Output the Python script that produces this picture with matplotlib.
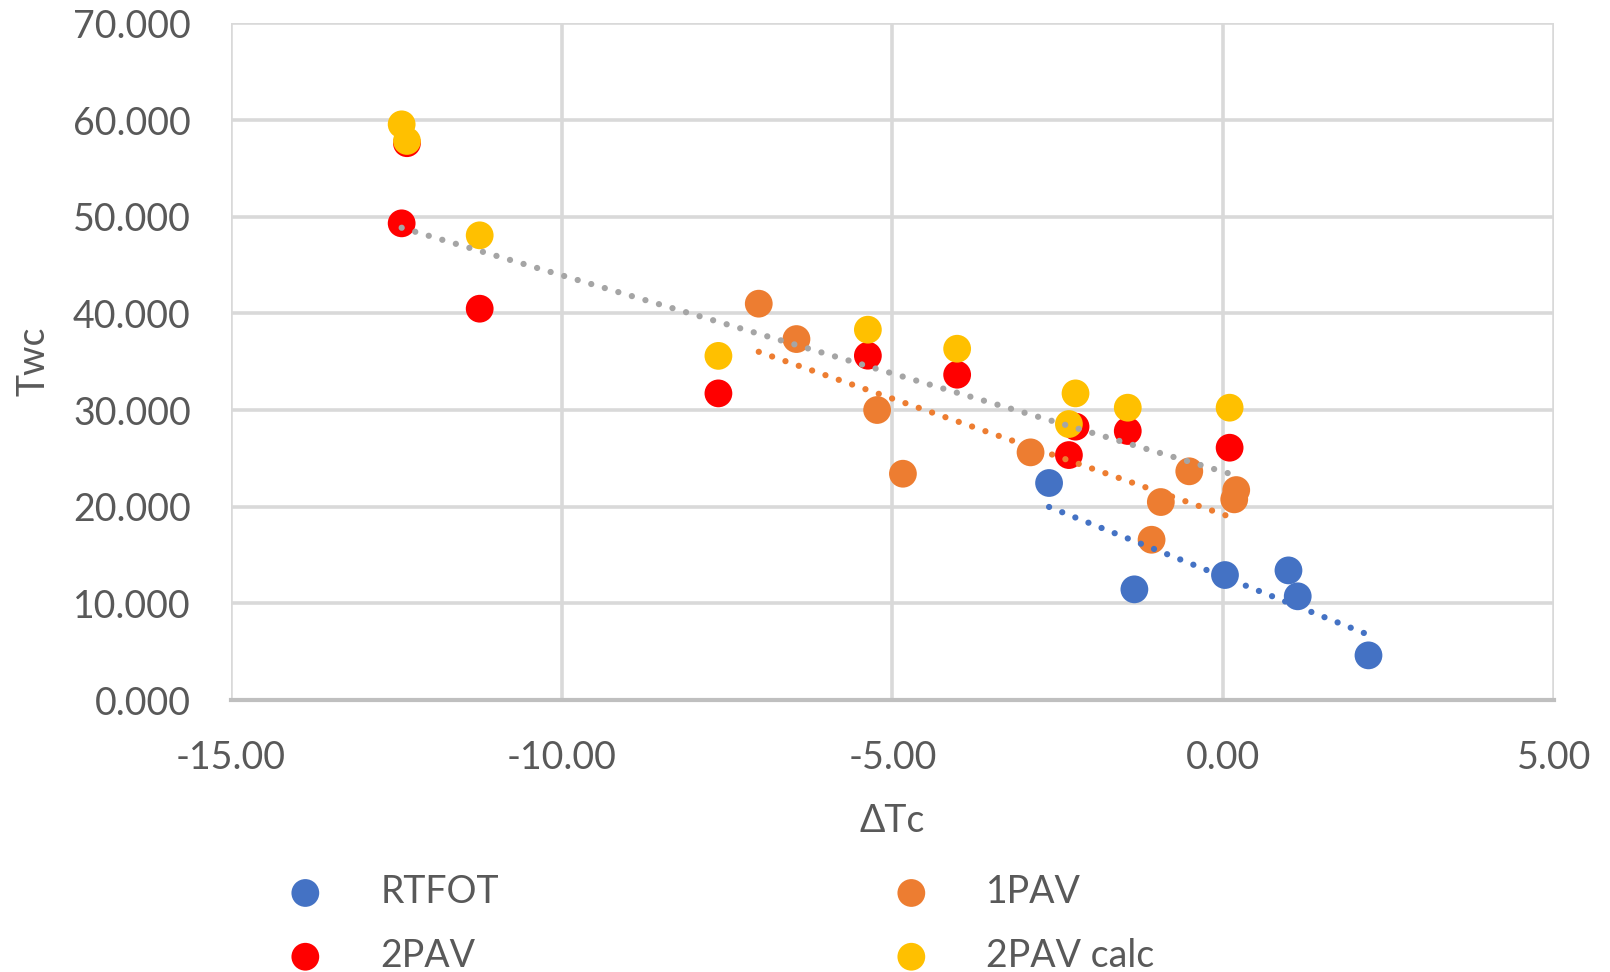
import numpy as np
import matplotlib
matplotlib.use("Agg")
from matplotlib import pyplot as plt
from matplotlib.ticker import FormatStrFormatter

plt.rcParams['font.family'] = ['Lato', 'DejaVu Sans']
plt.rcParams['axes.unicode_minus'] = False

# data
rtfot_x = [-2.63, -1.34, 0.03, 0.99, 1.13, 2.20]
rtfot_y = [22.45, 11.45, 12.93, 13.41, 10.73, 4.62]

pav1_x = [-7.02, -6.45, -5.23, -4.84, -2.91, -1.08, -0.94, -0.51, 0.17, 0.20]
pav1_y = [41.0, 37.34, 30.0, 23.41, 25.62, 16.58, 20.48, 23.66, 20.76, 21.72]

pav2_x = [-12.42, -12.34, -11.24, -7.63, -5.37, -4.02, -2.33, -2.23, -1.44, 0.10]
pav2_y = [49.31, 57.6, 40.48, 31.72, 35.62, 33.65, 25.34, 28.28, 27.83, 26.1]

calc_x = [-12.42, -12.34, -11.24, -7.63, -5.37, -4.02, -2.33, -2.23, -1.44, 0.10]
calc_y = [59.55, 57.83, 48.07, 35.6, 38.31, 36.34, 28.55, 31.72, 30.24, 30.24]

series = [
    ("RTFOT", rtfot_x, rtfot_y, "#4472C4", "#4472C4"),
    ("1PAV", pav1_x, pav1_y, "#ED7D31", "#ED7D31"),
    ("2PAV", pav2_x, pav2_y, "#FF0000", "#A5A5A5"),
    ("2PAV calc", calc_x, calc_y, "#FFC000", None),
]

txt = "#595959"
fs = 27

fig = plt.figure(figsize=(16.1, 9.72), dpi=100)
ax = fig.add_axes([0.1435, 0.2798, 0.8215, 0.6962])

handles = {}
for name, x, y, col, tcol in series:
    handles[name] = ax.scatter(x, y, s=400, color=col, edgecolors="none", zorder=3, label=name)

# linear trendlines drawn on top of the markers
for name, x, y, col, tcol in series:
    if tcol is None:
        continue
    k, b = np.polyfit(x, y, 1)
    xs = np.array([min(x), max(x)])
    ax.plot(xs, k * xs + b, color=tcol, lw=4.5, linestyle=(0, (0.01, 2.25)),
            dash_capstyle="round", zorder=4)

ax.set_xlim(-15, 5)
ax.set_ylim(0, 70)
ax.set_xticks(np.arange(-15, 6, 5))
ax.set_yticks(np.arange(0, 71, 10))
ax.xaxis.set_major_formatter(FormatStrFormatter("%.2f"))
ax.yaxis.set_major_formatter(FormatStrFormatter("%.3f"))
ax.grid(True, color="#D9D9D9", lw=2.6, zorder=0)
ax.set_axisbelow(True)
for s in ["top", "left", "right"]:
    ax.spines[s].set_visible(False)
ax.spines["bottom"].set_color("#BFBFBF")
ax.spines["bottom"].set_linewidth(3)
ax.spines["bottom"].set_zorder(1)
ax.tick_params(length=0, labelsize=fs, labelcolor=txt, pad=29)

ax.set_xlabel("ΔTc", fontsize=fs, color=txt, va="center")
ax.xaxis.set_label_coords(0.5, -0.179)
ax.set_ylabel("Twc", fontsize=fs, color=txt, va="center")
ax.yaxis.set_label_coords(-0.149, 0.5)

order = ["RTFOT", "2PAV", "1PAV", "2PAV calc"]
leg = fig.legend([handles[n] for n in order], order, ncol=2, loc="upper left",
                 bbox_to_anchor=(0.178, 0.101), frameon=False, fontsize=fs,
                 handlelength=1.0, handletextpad=1.5, columnspacing=10.5,
                 labelspacing=0.74, borderpad=0, borderaxespad=0, scatterpoints=1)
for t in leg.get_texts():
    t.set_color(txt)

fig.savefig("out.png", dpi=100)
